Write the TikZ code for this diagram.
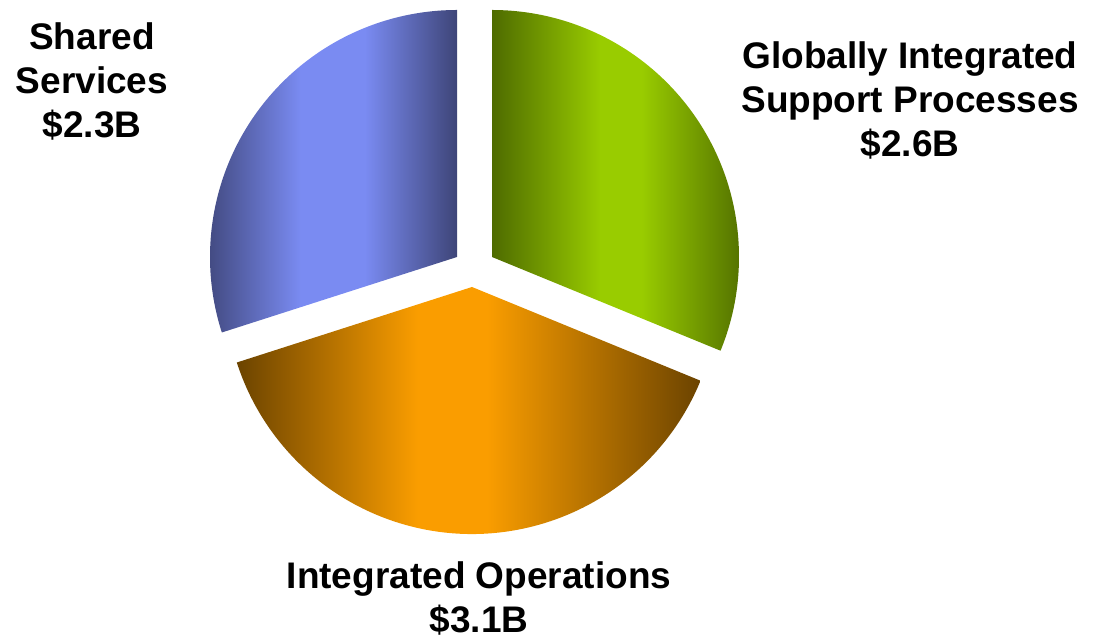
\documentclass[tikz,border=0pt]{standalone}
\usepackage{fontspec}
\setmainfont{Liberation Sans}
\definecolor{bdark}{RGB}{62,69,120}
\definecolor{bbright}{RGB}{122,139,242}
\definecolor{gdark}{RGB}{78,107,0}
\definecolor{gbright}{RGB}{153,204,0}
\definecolor{odark}{RGB}{107,67,0}
\definecolor{obright}{RGB}{250,157,0}
\pgfdeclarehorizontalshading{blueslice}{100bp}{color(0bp)=(bdark); color(25bp)=(bdark); color(44.5bp)=(bbright); color(57bp)=(bbright); color(75bp)=(bdark); color(100bp)=(bdark)}
\pgfdeclarehorizontalshading{greenslice}{100bp}{color(0bp)=(gdark); color(25bp)=(gdark); color(46bp)=(gbright); color(54bp)=(gbright); color(75bp)=(gdark); color(100bp)=(gdark)}
\pgfdeclarehorizontalshading{orangeslice}{100bp}{color(0bp)=(odark); color(25bp)=(odark); color(44.5bp)=(obright); color(52bp)=(obright); color(75bp)=(odark); color(100bp)=(odark)}
\begin{document}
\begin{tikzpicture}[x=1pt,y=1pt,
  label/.style={align=center,anchor=base,inner sep=0pt,
    font=\bfseries\fontsize{37}{44}\selectfont}]
\useasboundingbox (0,0) rectangle (1101,639);
% Shared Services slice
\shade[shading=blueslice] (457,382) -- ++(90:247pt)
  arc[start angle=90,end angle=197.8,radius=247pt] -- cycle;
% Globally Integrated Support Processes slice
\shade[shading=greenslice] (492,382) -- ++(90:247pt)
  arc[start angle=90,end angle=-22.3,radius=247pt] -- cycle;
% Integrated Operations slice
\shade[shading=orangeslice] (472,352) -- ++(-22.3:247pt)
  arc[start angle=-22.3,end angle=-162.2,radius=247pt] -- cycle;
% labels (base anchor = baseline of the last line)
\node[label] (shared) at (92,501) {Shared\\Services\\\$2.3B};
\node[label] (global) at (910,482) {Globally Integrated\\Support Processes\\\$2.6B};
\node[label] (intops) at (479,6) {Integrated Operations\\\$3.1B};
\end{tikzpicture}
\end{document}
